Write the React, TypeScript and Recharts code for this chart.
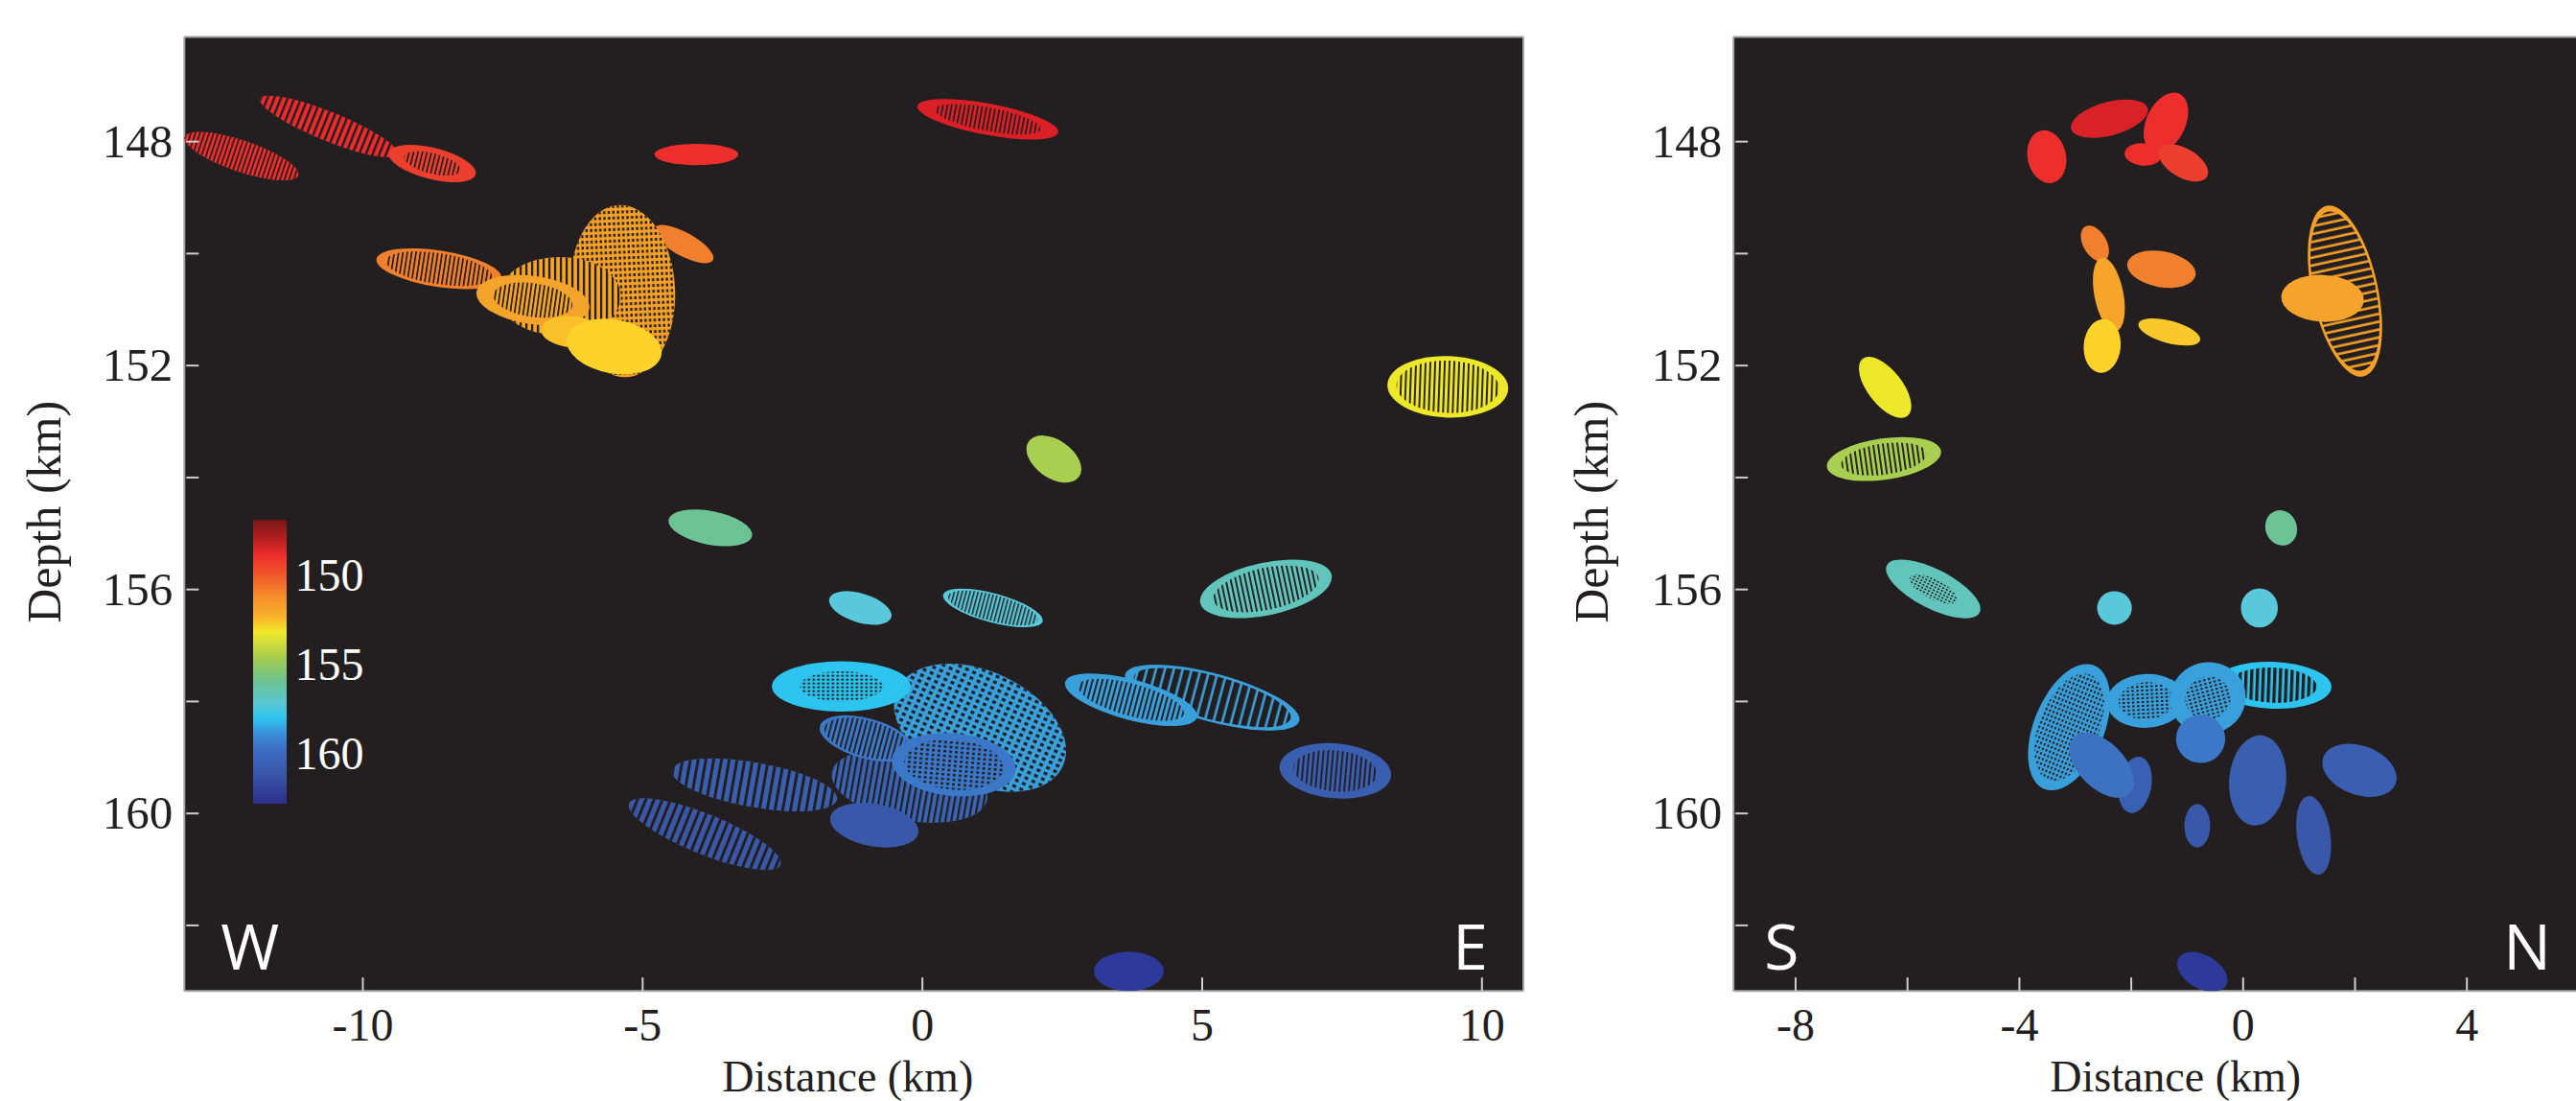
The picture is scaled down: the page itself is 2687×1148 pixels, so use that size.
import React from 'react';
import {
  ScatterChart,
  BarChart,
  Bar,
  Scatter,
  XAxis,
  YAxis,
  CartesianGrid,
  ReferenceLine,
  Label,
} from 'recharts';

// Error ellipses: [distance km, depth km, semi-major km, semi-minor km, angle deg, colour, fill, core, period]
type Ell = [number, number, number, number, number, string, string, number, number];

// W-E cross-section, in drawing order
const ewEllipses: Ell[] = [
  [-10.61, 147.73, 1.32, 0.26, 22, '#ED2B2C', 'stripe', 1, 6.5],
  [-12.17, 148.26, 1.07, 0.28, 18.6, '#EE2D2D', 'stripe', 1, 4.5],
  [-8.76, 148.39, 0.8, 0.28, 14, '#EC3F2E', 'stripe', 0.65, 4.5],
  [-4.04, 148.23, 0.75, 0.19, 0, '#EE2D2D', 'solid', 0, 0],
  [1.17, 147.6, 1.28, 0.28, 10.6, '#DA1F26', 'stripe', 0.75, 4.5],
  [-4.27, 149.83, 0.6, 0.21, 28.6, '#F07F2E', 'solid', 0, 0],
  [-5.36, 150.67, 1.54, 0.94, 87.6, '#F5A028', 'mesh', 1, 6],
  [-8.64, 150.27, 1.13, 0.325, 8.7, '#F07F2E', 'stripe', 0.85, 4.5],
  [-6.48, 150.76, 1.09, 0.7, 0, '#F7A52A', 'stripe', 1, 6],
  [-6.96, 150.83, 1.02, 0.43, 8, '#F5A42B', 'stripe', 0.7, 4.5],
  [-6.25, 151.4, 0.57, 0.28, 5, '#F9C02A', 'solid', 0, 0],
  [-5.51, 151.66, 0.86, 0.48, 10, '#FDD22A', 'solid', 0, 0],
  [9.39, 152.38, 1.08, 0.55, 2, '#EEE82A', 'stripe', 0.85, 5],
  [2.35, 153.67, 0.55, 0.34, 35, '#A8CF50', 'solid', 0, 0],
  [-3.79, 154.9, 0.76, 0.3, 11, '#6CC494', 'solid', 0, 0],
  [6.14, 155.99, 1.2, 0.47, -12, '#62C5BC', 'stripe', 0.8, 5],
  [-1.11, 156.33, 0.58, 0.26, 17, '#58C8DA', 'solid', 0, 0],
  [1.26, 156.33, 0.92, 0.26, 15, '#58C8DA', 'stripe', 0.9, 4],
  [5.18, 157.93, 1.61, 0.43, 15, '#3AA0DC', 'ring', 0.9, 9],
  [3.73, 157.97, 1.22, 0.36, 15, '#3AA0DC', 'stripe', 0.8, 5],
  [1.03, 158.47, 1.63, 1.01, 25, '#3AA0DC', 'mesh', 1, 8],
  [-1.45, 157.73, 1.24, 0.45, 0, '#2EC4F0', 'mesh', 0.6, 5],
  [-3.0, 159.49, 1.5, 0.4, 10, '#3A5EB0', 'stripe', 1, 8],
  [-3.89, 160.37, 1.46, 0.36, 22, '#3A58AA', 'stripe', 1, 8],
  [-0.23, 159.51, 1.41, 0.62, 10, '#3A66B8', 'stripe', 1, 6],
  [-1.0, 158.66, 0.86, 0.36, 15, '#3C78C8', 'stripe', 0.9, 5],
  [0.56, 159.13, 1.11, 0.56, 5, '#3C78C8', 'mesh', 0.8, 6],
  [-0.86, 160.21, 0.8, 0.38, 10, '#3A58AA', 'solid', 0, 0],
  [7.38, 159.24, 1.0, 0.49, 5, '#3A5EB0', 'stripe', 0.75, 5],
  [3.69, 162.82, 0.625, 0.35, 0, '#2E3A9A', 'solid', 0, 0],
];

// S-N cross-section, in drawing order
const snEllipses: Ell[] = [
  [-2.39, 147.59, 0.71, 0.3, -15, '#D82228', 'solid', 0, 0],
  [-3.51, 148.27, 0.477, 0.344, 78, '#EE2D2D', 'solid', 0, 0],
  [-1.79, 148.23, 0.33, 0.2, 5, '#EE2D2D', 'solid', 0, 0],
  [-1.38, 147.66, 0.57, 0.35, -65, '#EE2D2D', 'solid', 0, 0],
  [-1.07, 148.38, 0.49, 0.26, 30, '#EC3F2E', 'solid', 0, 0],
  [-2.65, 149.82, 0.35, 0.21, 60, '#F07F2E', 'solid', 0, 0],
  [-1.46, 150.28, 0.62, 0.32, 10, '#F07F2E', 'solid', 0, 0],
  [-2.4, 150.73, 0.67, 0.26, 79, '#F7A52A', 'solid', 0, 0],
  [-2.52, 151.65, 0.48, 0.33, 95, '#FDD22A', 'solid', 0, 0],
  [-1.32, 151.4, 0.57, 0.2, 15, '#F9C82A', 'solid', 0, 0],
  [1.82, 150.67, 1.56, 0.59, 77.8, '#F5A028', 'ring', 0.93, 8],
  [1.42, 150.8, 0.74, 0.42, 3, '#F5A42B', 'solid', 0, 0],
  [-6.4, 152.39, 0.65, 0.31, 52, '#EEE82A', 'solid', 0, 0],
  [-6.42, 153.67, 1.03, 0.37, -8, '#A8CF50', 'stripe', 0.75, 5],
  [0.68, 154.9, 0.32, 0.28, 70, '#6CC494', 'solid', 0, 0],
  [-5.54, 155.99, 0.93, 0.35, 27, '#62C5BC', 'mesh', 0.5, 4],
  [-2.3, 156.33, 0.31, 0.3, 0, '#58C8DA', 'solid', 0, 0],
  [0.29, 156.33, 0.35, 0.33, 90, '#58C8DA', 'solid', 0, 0],
  [0.53, 157.71, 1.05, 0.42, 2, '#2EC4F0', 'ring', 0.75, 6],
  [-3.11, 158.46, 1.19, 0.63, 112, '#3AA0DC', 'mesh', 0.85, 5],
  [-1.73, 157.99, 0.71, 0.48, -3, '#3AA0DC', 'mesh', 0.7, 5],
  [-0.63, 157.94, 0.68, 0.64, -15, '#3AA0DC', 'mesh', 0.6, 5],
  [-0.76, 158.67, 0.44, 0.43, 0, '#3C78C8', 'solid', 0, 0],
  [-1.93, 159.49, 0.51, 0.29, 100, '#3A60B4', 'solid', 0, 0],
  [-2.53, 159.14, 0.71, 0.41, 45, '#3C72C0', 'solid', 0, 0],
  [0.26, 159.41, 0.81, 0.51, 95, '#3A5EB0', 'solid', 0, 0],
  [2.08, 159.23, 0.69, 0.44, 20, '#3A5EB0', 'solid', 0, 0],
  [-0.82, 160.22, 0.39, 0.23, 90, '#3A58AA', 'solid', 0, 0],
  [1.26, 160.39, 0.71, 0.3, 82, '#3A58AA', 'solid', 0, 0],
  [-0.73, 162.83, 0.49, 0.3, 30, '#2E3A9A', 'solid', 0, 0],
];

const depthDomain: [number, number] = [146.13, 163.17];
const depthTicks = [148, 150, 152, 154, 156, 158, 160, 162];
const depthLabels = [148, 152, 156, 160];

const ewDomain: [number, number] = [-13.19, 10.74];
const ewTicks = [-10, -5, 0, 5, 10];
const ewLabels = [-10, -5, 0, 5, 10];

const snDomain: [number, number] = [-9.11, 5.95];
const snTicks = [-8, -6, -4, -2, 0, 2, 4];
const snLabels = [-8, -4, 0, 4];

// colour bar (depth, km)
const colorbarDomain: [number, number] = [146.92, 162.8];
const colorbarTicks = [150, 155, 160];
const colorbarStops: [number, string][] = [
  [146.92, '#7A1818'],
  [147.9, '#B01E1E'],
  [148.9, '#EE2D2D'],
  [150.05, '#F05A2A'],
  [151.3, '#F5902A'],
  [152.4, '#FAB52A'],
  [153.2, '#F0E82A'],
  [154.6, '#A5CC4C'],
  [155.9, '#6DC290'],
  [157.2, '#58C6D4'],
  [158.0, '#2EC4F0'],
  [158.8, '#3A92DA'],
  [159.65, '#3B70C4'],
  [161.0, '#3A58AA'],
  [162.8, '#2C2E8C'],
];

const BG = '#231f20';
const FRAME = '#a3a3a3';
const TICK = '#cfcfcf';
const SERIF = '"Liberation Serif", "Times New Roman", serif';
const SANS = '"Open Sans", "Liberation Sans", sans-serif';

const H = 1148;
const TOP = 38.5;
const XAXIS_H = 114.8;

const toRows = (rows: Ell[], tag: string) =>
  rows.map(([x, depth, a, b, angle, color, fill, core, period], i) => ({
    x, depth, a, b, angle, color, fill, core, period, id: `${tag}${i}`,
  }));

const ewData = toRows(ewEllipses, 'ew');
const snData = toRows(snEllipses, 'sn');

// ellipse drawn around the scaled centre; k = pixels per km (equal aspect)
const ellipseShape = (kFallback: number) => (props: any) => {
  const { cx, cy, payload } = props;
  if (cx == null || cy == null || !payload) return <g />;
  const sx = props.xAxis && props.xAxis.scale;
  const k = sx ? Math.abs(sx(1) - sx(0)) : kFallback;
  const rx = payload.a * k;
  const ry = payload.b * k;
  const p = payload.period;
  const pid = `pat-${payload.id}`;
  let pattern: React.ReactNode = null;
  if (payload.fill === 'stripe') {
    pattern = (
      <pattern id={pid} patternUnits="userSpaceOnUse" width={p} height={p}>
        <rect x={0} y={0} width={Math.max(1.5, p * 0.38)} height={p} fill={BG} />
      </pattern>
    );
  } else if (payload.fill === 'ring') {
    pattern = (
      <pattern id={pid} patternUnits="userSpaceOnUse" width={p} height={p}>
        <rect x={0} y={0} width={p - 2.6} height={p} fill={BG} />
      </pattern>
    );
  } else if (payload.fill === 'mesh') {
    pattern = (
      <pattern id={pid} patternUnits="userSpaceOnUse" width={p} height={p * 0.8}>
        <rect x={0} y={0} width={p * 0.5} height={p * 0.4} fill={BG} />
      </pattern>
    );
  }
  return (
    <g transform={`translate(${cx},${cy}) rotate(${payload.angle})`}>
      {pattern && <defs>{pattern}</defs>}
      <ellipse cx={0} cy={0} rx={rx} ry={ry} fill={payload.color} />
      {pattern && (
        <ellipse cx={0} cy={0} rx={rx * payload.core} ry={ry * payload.core} fill={`url(#${pid})`} />
      )}
    </g>
  );
};

const DepthTick = (props: any) => {
  const { x, y, payload } = props;
  const v = payload.value;
  return (
    <g>
      <line x1={x + 2} x2={x + 15} y1={y} y2={y} stroke={TICK} strokeWidth={2} />
      {depthLabels.includes(v) && (
        <text x={x - 12} y={y + 16} textAnchor="end" fontFamily={SERIF} fontSize={49} fill={BG}>
          {v}
        </text>
      )}
    </g>
  );
};

const distTick = (labels: number[]) => (props: any) => {
  const { x, y, payload } = props;
  const v = payload.value;
  return (
    <g>
      <line x1={x} x2={x} y1={y} y2={y - 14} stroke={TICK} strokeWidth={2} />
      {labels.includes(v) && (
        <text x={x} y={y + 52} textAnchor="middle" fontFamily={SERIF} fontSize={48} fill={BG}>
          {v}
        </text>
      )}
    </g>
  );
};

const distLabel = (center: number, left: string, right: string, leftPad: number, rightPad: number) =>
  (props: any) => {
    const { x, y, width } = props.viewBox;
    return (
      <g>
        <text x={x + center} y={y + 104.3} textAnchor="middle" fontFamily={SERIF} fontSize={46} fill={BG}>
          Distance (km)
        </text>
        <text x={x + leftPad} y={y - 22} fontFamily={SANS} fontSize={66} fill="#ffffff">
          {left}
        </text>
        <text x={x + width - rightPad} y={y - 22} textAnchor="end" fontFamily={SANS} fontSize={66} fill="#ffffff">
          {right}
        </text>
      </g>
    );
  };

const depthLabel = (baseX: number) => (props: any) => {
  const { y, height } = props.viewBox;
  const cy = y + height / 2 - 2;
  return (
    <text
      x={baseX}
      y={cy}
      transform={`rotate(-90, ${baseX}, ${cy})`}
      textAnchor="middle"
      fontFamily={SERIF}
      fontSize={50}
      fill={BG}
    >
      Depth (km)
    </text>
  );
};

const ColorbarTick = (props: any) => {
  const { x, y, payload } = props;
  return (
    <text x={x + 9} y={y + 16} fontFamily={SERIF} fontSize={48} fill="#ffffff">
      {payload.value}
    </text>
  );
};

interface PanelProps {
  data: any[];
  width: number;
  yAxisWidth: number;
  rightMargin: number;
  xDomain: [number, number];
  xTicks: number[];
  xLabels: number[];
  labelCenter: number;
  leftLetter: string;
  rightLetter: string;
  leftPad: number;
  rightPad: number;
  depthLabelX: number;
  rightFrame: boolean;
}

const Panel: React.FC<PanelProps> = (p) => {
  const plotW = p.width - p.yAxisWidth - p.rightMargin;
  const k = plotW / (p.xDomain[1] - p.xDomain[0]);
  return (
    <ScatterChart
      width={p.width}
      height={H}
      margin={{ top: TOP, right: p.rightMargin, bottom: 0, left: 0 }}
    >
      <CartesianGrid fill={BG} horizontal={false} vertical={false} />
      <XAxis
        type="number"
        dataKey="x"
        domain={p.xDomain}
        allowDataOverflow
        ticks={p.xTicks}
        interval={0}
        height={XAXIS_H}
        tickSize={0}
        tickMargin={0}
        tickLine={false}
        axisLine={{ stroke: FRAME, strokeWidth: 2 }}
        tick={distTick(p.xLabels)}
        label={<Label content={distLabel(p.labelCenter, p.leftLetter, p.rightLetter, p.leftPad, p.rightPad)} />}
      />
      <YAxis
        type="number"
        dataKey="depth"
        domain={depthDomain}
        reversed
        allowDataOverflow
        ticks={depthTicks}
        interval={0}
        width={p.yAxisWidth}
        tickSize={0}
        tickMargin={0}
        tickLine={false}
        axisLine={{ stroke: FRAME, strokeWidth: 2 }}
        tick={<DepthTick />}
        label={<Label content={depthLabel(p.depthLabelX)} />}
      />
      <ReferenceLine y={depthDomain[0]} stroke={FRAME} strokeWidth={2} />
      {p.rightFrame && <ReferenceLine x={p.xDomain[1]} stroke={FRAME} strokeWidth={2} />}
      <Scatter data={p.data} shape={ellipseShape(k)} isAnimationActive={false} />
    </ScatterChart>
  );
};

// one range bar spanning the colour-scale extent
const colorbarData = [{ name: 'depth', range: colorbarDomain }];

const Colorbar: React.FC = () => (
  <BarChart
    width={134.5}
    height={296.5}
    margin={{ top: 0, right: 0, bottom: 0, left: 0 }}
    data={colorbarData}
    barCategoryGap={0}
    barGap={0}
  >
    <XAxis dataKey="name" hide />
    <YAxis
      type="number"
      orientation="right"
      domain={colorbarDomain}
      reversed
      allowDataOverflow
      ticks={colorbarTicks}
      interval={0}
      width={100}
      tickSize={0}
      tickMargin={0}
      tickLine={false}
      axisLine={false}
      tick={<ColorbarTick />}
    />
    <Bar dataKey="range" fill="url(#cbarGrad)" isAnimationActive={false} />
  </BarChart>
);

export default function App() {
  const span = colorbarDomain[1] - colorbarDomain[0];
  return (
    <div style={{ position: 'relative', width: 2687, height: H, overflow: 'hidden', background: '#fff' }}>
      <style>{'body{margin:0;overflow:hidden;}'}</style>
      <svg width={1} height={1} style={{ position: 'absolute', left: 0, top: 0 }}>
        <defs>
          <linearGradient id="cbarGrad" x1="0" y1="0" x2="0" y2="1">
            {colorbarStops.map(([v, c]) => (
              <stop key={v} offset={(v - colorbarDomain[0]) / span} stopColor={c} />
            ))}
          </linearGradient>
        </defs>
      </svg>
      <div style={{ position: 'absolute', left: 0, top: 0 }}>
        <Panel
          data={ewData}
          width={1600}
          yAxisWidth={192.3}
          rightMargin={11}
          xDomain={ewDomain}
          xTicks={ewTicks}
          xLabels={ewLabels}
          labelCenter={692}
          leftLetter="W"
          rightLetter="E"
          leftPad={38}
          rightPad={37}
          depthLabelX={63.5}
          rightFrame
        />
      </div>
      <div style={{ position: 'absolute', left: 264, top: 541.5 }}>
        <Colorbar />
      </div>
      <div style={{ position: 'absolute', left: 1600, top: 0 }}>
        <Panel
          data={snData}
          width={1087}
          yAxisWidth={208.2}
          rightMargin={0}
          xDomain={snDomain}
          xTicks={snTicks}
          xLabels={snLabels}
          labelCenter={461}
          leftLetter="S"
          rightLetter="N"
          leftPad={32}
          rightPad={26}
          depthLabelX={77.5}
          rightFrame={false}
        />
      </div>
    </div>
  );
}
